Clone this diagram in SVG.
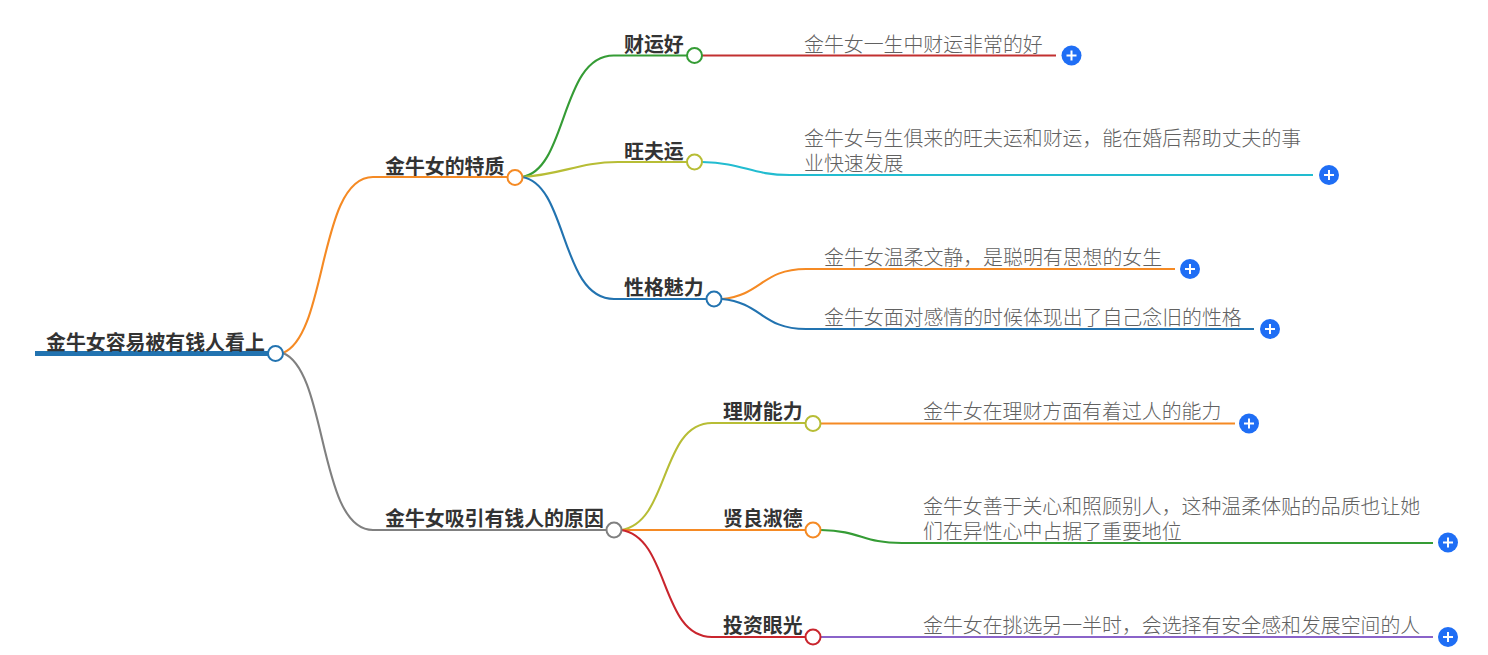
<svg xmlns="http://www.w3.org/2000/svg" width="1488" height="655" viewBox="0 0 1488 655">
<style>
text{font-family:"Noto Sans CJK SC","Noto Sans",sans-serif;font-size:19.9px}
.b{font-weight:700;fill:#333}
.t{font-weight:300;fill:#616161}
.c{fill:none;stroke-width:2.100}
.n{fill:#fff;stroke-width:2}
.pb{fill:#1f6ef5}
.pl{stroke:#fff;stroke-width:2;fill:none}
</style>
<defs><g id="plus"><circle class="pb" r="10"/><path class="pl" d="M-5 0H5M0-5V5"/></g></defs>
<rect width="1488" height="655" fill="#fff"/>
<g id="connectors">
<path d="M35 353.500H268" fill="none" stroke="#2273b0" stroke-width="5"/>
<path class="c" stroke="#f58a24" d="M283 353C328 335 318 177 373 177H508"/>
<path class="c" stroke="#808080" d="M283 353C328 371 318 530 373 530H607"/>
<path class="c" stroke="#359c35" d="M522 177C568 170 560 55 614 55.500H687"/>
<path class="c" stroke="#b7bd35" d="M522 177C560 175 580 162 618 162H687"/>
<path class="c" stroke="#2273b0" d="M522 177C568 184 560 299 614 299H707"/>
<path class="c" stroke="#c23030" d="M702 55.500H1056"/>
<path class="c" stroke="#22bcd0" d="M702 162C745 163 750 175 790 175H1313"/>
<path class="c" stroke="#f58a24" d="M722 299C762 295 762 269 806 269H1175"/>
<path class="c" stroke="#2273b0" d="M722 299C762 303 762 329 806 329H1254"/>
<path class="c" stroke="#b7bd35" d="M621 530C670 523 660 423 712 423H806"/>
<path class="c" stroke="#f58a24" d="M621 530H806"/>
<path class="c" stroke="#c9252d" d="M621 530C670 537 660 637 712 637H806"/>
<path class="c" stroke="#f58a24" d="M821 423.500H1235"/>
<path class="c" stroke="#359c35" d="M821 530C862 531 862 543 902 543H1433"/>
<path class="c" stroke="#8a63c9" d="M821 637H1433"/>
</g>
<g id="n0"><text class="b" x="46" y="350">金牛女容易被有钱人看上</text><circle class="n" cx="275.500" cy="353.500" r="7.500" stroke="#2273b0"/></g>
<g id="n1"><text class="b" x="385" y="173.500">金牛女的特质</text><circle class="n" cx="515" cy="177.500" r="7.500" stroke="#f58a24"/></g>
<g id="n2"><text class="b" x="385" y="525.500">金牛女吸引有钱人的原因</text><circle class="n" cx="614" cy="530" r="7.500" stroke="#808080"/></g>
<g id="n3"><text class="b" x="624" y="51.500">财运好</text><circle class="n" cx="694.500" cy="55.500" r="7.500" stroke="#359c35"/></g>
<g id="n4"><text class="b" x="624" y="158.500">旺夫运</text><circle class="n" cx="694.500" cy="162" r="7.500" stroke="#b7bd35"/></g>
<g id="n5"><text class="b" x="624" y="294.500">性格魅力</text><circle class="n" cx="714" cy="299" r="7.500" stroke="#2273b0"/></g>
<g id="n6"><text class="b" x="723" y="418.500">理财能力</text><circle class="n" cx="813" cy="423.500" r="7.500" stroke="#b7bd35"/></g>
<g id="n7"><text class="b" x="723" y="525.500">贤良淑德</text><circle class="n" cx="813" cy="530" r="7.500" stroke="#f58a24"/></g>
<g id="n8"><text class="b" x="723" y="632.500">投资眼光</text><circle class="n" cx="813" cy="637" r="7.500" stroke="#c9252d"/></g>
<g id="n9"><text class="t" x="804" y="51.500">金牛女一生中财运非常的好</text><use href="#plus" x="1071.500" y="55.500"/></g>
<g id="n10"><text class="t" x="804" y="145.500"><tspan x="804">金牛女与生俱来的旺夫运和财运，能在婚后帮助丈夫的事</tspan><tspan x="804" y="170.500">业快速发展</tspan></text><use href="#plus" x="1329" y="175"/></g>
<g id="n11"><text class="t" x="824" y="264.500">金牛女温柔文静，是聪明有思想的女生</text><use href="#plus" x="1190" y="269"/></g>
<g id="n12"><text class="t" x="824" y="324.500">金牛女面对感情的时候体现出了自己念旧的性格</text><use href="#plus" x="1270" y="329"/></g>
<g id="n13"><text class="t" x="923" y="418.500">金牛女在理财方面有着过人的能力</text><use href="#plus" x="1249" y="423.500"/></g>
<g id="n14"><text class="t" x="923" y="513.500"><tspan x="923">金牛女善于关心和照顾别人，这种温柔体贴的品质也让她</tspan><tspan x="923" y="538.500">们在异性心中占据了重要地位</tspan></text><use href="#plus" x="1448" y="542.500"/></g>
<g id="n15"><text class="t" x="923" y="632.500">金牛女在挑选另一半时，会选择有安全感和发展空间的人</text><use href="#plus" x="1448" y="637"/></g>
</svg>
